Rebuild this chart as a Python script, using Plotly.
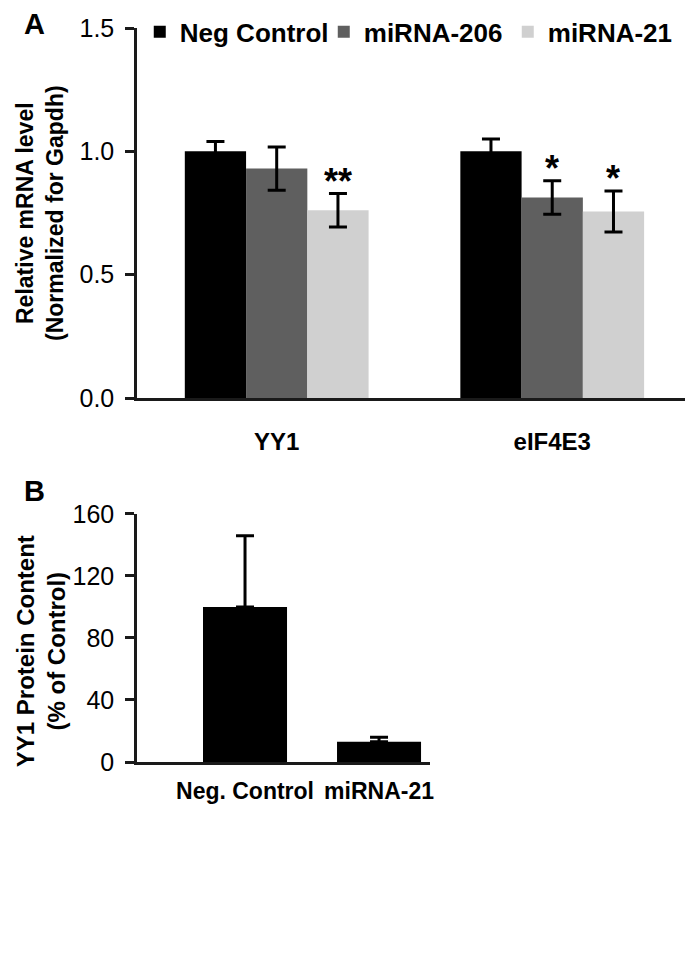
import plotly.graph_objects as go

# Panel A data
genes = ["YY1", "eIF4E3"]
series_names = ["Neg Control", "miRNA-206", "miRNA-21"]
series_colors = ["#000000", "#5f5f5f", "#d0d0d0"]
neg_vals = [1.0, 1.0]
neg_err = [0.04, 0.05]
m206_vals = [0.93, 0.813]
m206_err = [0.088, 0.068]
m21_vals = [0.761, 0.756]
m21_err = [0.068, 0.083]

# significance marks (series index, gene index, label)
sig_marks = [(2, 0, "**"), (1, 1, "*"), (2, 1, "*")]

# Panel B data
b_cats = ["Neg. Control", "miRNA-21"]
b_vals = [100, 13]
b_err = [46, 3]

FONT = "Liberation Sans, Arial, sans-serif"

fig = go.Figure()

vals = [neg_vals, m206_vals, m21_vals]
errs = [neg_err, m206_err, m21_err]
for name, color, v, e in zip(series_names, series_colors, vals, errs):
    fig.add_trace(go.Bar(
        x=genes, y=v, name=name, marker=dict(color=color, line=dict(width=0)),
        error_y=dict(type="data", array=e, visible=True, color="black", thickness=3, width=9),
        xaxis="x", yaxis="y",
    ))

fig.add_trace(go.Bar(
    x=[0, 1], y=b_vals, showlegend=False, width=0.627,
    marker=dict(color="black", line=dict(width=0)),
    error_y=dict(type="data", array=b_err, arrayminus=[0, 0], visible=True,
                 color="black", thickness=3, width=9),
    xaxis="x2", yaxis="y2",
))

# asterisks
bw = 0.667 / 3
for s, g, lab in sig_marks:
    xpos = g + (s - 1) * bw
    ytop = vals[s][g] + errs[s][g]
    fig.add_annotation(x=xpos, y=ytop, xref="x", yref="y", text=lab, showarrow=False,
                       yanchor="bottom", yshift=-10,
                       font=dict(family=FONT, size=36, color="black", weight="bold"))

# y-axis titles and panel letters
fig.add_annotation(xref="paper", yref="paper", x=-0.1754, y=0.748, textangle=-90,
                   xanchor="center", yanchor="middle",
                   text="<b>Relative mRNA level<br>(Normalized for Gapdh)</b>", showarrow=False,
                   font=dict(family=FONT, size=23, color="black"))
fig.add_annotation(xref="paper", yref="paper", x=-0.1735, y=0.151, textangle=-90,
                   xanchor="center", yanchor="middle",
                   text="<b>YY1 Protein Content<br>(% of Control)</b>", showarrow=False,
                   font=dict(family=FONT, size=24, color="black"))
fig.add_annotation(xref="paper", yref="paper", x=-0.185, y=1.030, text="<b>A</b>",
                   showarrow=False, yanchor="top", xanchor="center",
                   font=dict(family=FONT, size=29, color="black"))
fig.add_annotation(xref="paper", yref="paper", x=-0.185, y=0.369, text="<b>B</b>",
                   showarrow=False, yanchor="middle", xanchor="center",
                   font=dict(family=FONT, size=29, color="black"))

line_common = dict(showline=True, linecolor="#1a1a1a", linewidth=2.5, showgrid=False,
                   zeroline=False)
ytick_font = dict(family=FONT, size=25, color="black")
xtick_font = dict(family=FONT, size=24, color="black", weight="bold")
xtick_font_b = dict(family=FONT, size=23, color="black", weight="bold")

fig.update_layout(
    width=685, height=961,
    margin=dict(l=129, r=3, t=20, b=207, autoexpand=False),
    paper_bgcolor="white", plot_bgcolor="white",
    barmode="group", bargap=0.333, bargroupgap=0,
    showlegend=True,
    legend=dict(orientation="h", x=0.005, y=0.9946, xanchor="left", yanchor="middle",
                font=dict(family=FONT, size=26, color="black", weight="bold"),
                itemwidth=30, traceorder="normal", entrywidth=139, entrywidthmode="pixels",
                bgcolor="rgba(0,0,0,0)"),
    xaxis=dict(domain=[0, 1], range=[-0.507, 1.5], anchor="y", ticks="",
               ticklabelstandoff=20, tickfont=xtick_font, **line_common),
    yaxis=dict(domain=[0.4959, 1], range=[0, 1.5], anchor="x", tickvals=[0, 0.5, 1.0, 1.5],
               ticktext=["0.0", "0.5", "1.0", "1.5"], ticks="outside", ticklen=9, tickwidth=2.5,
               tickcolor="#1a1a1a", ticklabelstandoff=6, tickfont=ytick_font, **line_common),
    xaxis2=dict(domain=[0, 0.53], range=[-0.806, 1.381], anchor="y2", ticks="",
                tickvals=[0, 1], ticktext=b_cats, ticklabelstandoff=7,
                tickfont=xtick_font_b, **line_common),
    yaxis2=dict(domain=[0, 0.3379], range=[0, 160], anchor="x2", tickvals=[0, 40, 80, 120, 160],
                ticks="outside", ticklen=9, tickwidth=2.5, tickcolor="#1a1a1a",
                ticklabelstandoff=6, tickfont=ytick_font, **line_common),
)

fig.write_html("out.html")
